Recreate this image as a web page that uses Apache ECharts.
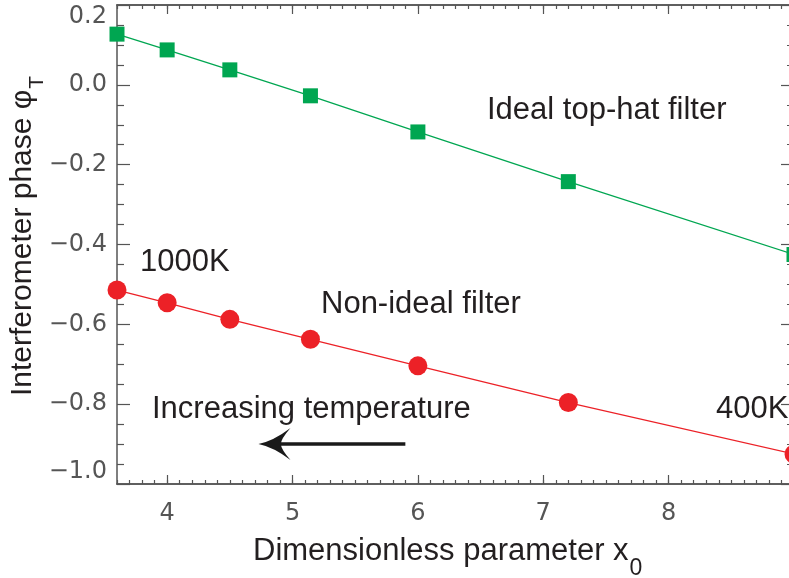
<!DOCTYPE html>
<html>
<head>
<meta charset="utf-8">
<title>Interferometer phase vs dimensionless parameter</title>
<script src="https://cdn.jsdelivr.net/npm/echarts@6/dist/echarts.min.js"></script>
<style>
  html, body { margin: 0; padding: 0; background: #ffffff; }
  #chart { width: 789px; height: 578px; }
</style>
</head>
<body>
<div id="chart"></div>
<script>
// x0 = 3600 / T, for T = 1000 K down to 400 K
const x0Values = [3.6, 4.0, 4.5, 5.143, 6.0, 7.2, 9.0];
// Ideal top-hat filter
const idealPhase = [0.127, 0.0875, 0.0375, -0.0275, -0.118, -0.2425, -0.425];
// Non-ideal filter
const nonIdealPhase = [-0.514, -0.546, -0.5875, -0.6375, -0.704, -0.796, -0.925];

// Axis ticks and labels
const xMajorTicks = [4, 5, 6, 7, 8];
const xMinorTicks = [];
for (let i = 36; i <= 90; i++) xMinorTicks.push(i / 10);
const yTickLabels = ['\u22121.0', '\u22120.8', '\u22120.6', '\u22120.4', '\u22120.2', '0.0', '0.2'];

// "Increasing temperature" arrow, from tail to head
const arrowX = [5.9, 4.856];
const arrowY = -0.9;

const AXIS_COLOR = '#555555';
const TICK_LABEL_COLOR = '#555555';
const TEXT_COLOR = '#231f20';
const TEXT_FONT = 'Liberation Sans';
const TICK_FONT = 'DejaVu Sans';
const GREEN = '#00a651';
const RED = '#ec2127';

const axisLineStyle = { color: AXIS_COLOR, width: 1.5 };
const tickLineStyle = { color: AXIS_COLOR, width: 1.2 };

function xAxisDef(position, ticks, tickLen, withLabels) {
  return {
    type: 'value',
    position: position,
    min: 3.6,
    max: 9.0,
    axisLine: { show: true, onZero: false, lineStyle: axisLineStyle },
    axisTick: { show: true, inside: true, length: tickLen, customValues: ticks, lineStyle: tickLineStyle },
    axisLabel: withLabels ? {
      show: true,
      customValues: ticks,
      margin: 18,
      color: TICK_LABEL_COLOR,
      fontFamily: TICK_FONT,
      fontSize: 24,
      formatter: function (v) { return String(v); }
    } : { show: false },
    splitLine: { show: false }
  };
}

function yAxisDef(position, withLabels) {
  return {
    type: 'value',
    position: position,
    min: -1.0,
    max: 0.2,
    interval: 0.2,
    axisLine: { show: true, onZero: false, lineStyle: axisLineStyle },
    axisTick: { show: true, inside: true, length: 13, lineStyle: tickLineStyle },
    minorTick: { show: true, splitNumber: 4, length: 7, lineStyle: tickLineStyle },
    axisLabel: withLabels ? {
      show: true,
      margin: 10,
      color: TICK_LABEL_COLOR,
      fontFamily: TICK_FONT,
      fontSize: 24,
      verticalAlignMinLabel: 'bottom',
      verticalAlignMaxLabel: 'top',
      formatter: function (v) { return yTickLabels[Math.round((v + 1.0) / 0.2)]; }
    } : { show: false },
    splitLine: { show: false },
    minorSplitLine: { show: false }
  };
}

function pairs(xs, ys) {
  return xs.map(function (x, i) { return [x, ys[i]]; });
}

const textStyle = function (size) {
  return { fontSize: size, fontFamily: TEXT_FONT, fill: TEXT_COLOR };
};

function annotation(text, x, y) {
  return {
    type: 'text',
    x: x,
    y: y,
    silent: true,
    style: Object.assign({ text: text, align: 'left', verticalAlign: 'middle' }, textStyle(31))
  };
}

const chart = echarts.init(document.getElementById('chart'), null, { renderer: 'canvas' });

chart.setOption({
  animation: false,
  backgroundColor: '#ffffff',
  grid: { left: 117, top: 5, width: 677, height: 479, containLabel: false, outerBoundsMode: 'none' },
  xAxis: [
    xAxisDef('bottom', xMajorTicks, 9, true),
    xAxisDef('bottom', xMinorTicks, 4, false),
    xAxisDef('top', xMajorTicks, 9, false),
    xAxisDef('top', xMinorTicks, 4, false)
  ],
  yAxis: [
    yAxisDef('left', true),
    yAxisDef('right', false)
  ],
  series: [
    {
      name: 'Ideal top-hat filter',
      type: 'line',
      xAxisIndex: 0,
      yAxisIndex: 0,
      clip: false,
      data: pairs(x0Values, idealPhase),
      symbol: 'rect',
      symbolSize: 15,
      showAllSymbol: true,
      lineStyle: { color: GREEN, width: 1.3 },
      itemStyle: { color: GREEN }
    },
    {
      name: 'Non-ideal filter',
      type: 'line',
      xAxisIndex: 0,
      yAxisIndex: 0,
      clip: false,
      data: pairs(x0Values, nonIdealPhase),
      symbol: 'circle',
      symbolSize: 19,
      showAllSymbol: true,
      lineStyle: { color: RED, width: 1.3 },
      itemStyle: { color: RED }
    },
    {
      // arrow annotation drawn on the same axes
      name: 'arrow',
      type: 'line',
      xAxisIndex: 0,
      yAxisIndex: 0,
      data: [],
      markLine: {
        silent: true,
        animation: false,
        symbol: ['none', 'path://M16,0 Q19,14 32,30 Q21,21 16,21 Q11,21 0,30 Q13,14 16,0 Z'],
        symbolSize: 32,
        label: { show: false },
        lineStyle: { color: '#1a1a1a', width: 3.5, type: 'solid', opacity: 1 },
        itemStyle: { color: '#1a1a1a' },
        emphasis: { disabled: true },
        data: [[{ coord: [arrowX[0], arrowY] }, { coord: [arrowX[1], arrowY] }]]
      }
    }
  ],
  graphic: [
    annotation('Ideal top-hat filter', 487, 110.5),
    annotation('1000K', 140, 262),
    annotation('Non-ideal filter', 321, 304),
    annotation('Increasing temperature', 152, 409),
    annotation('400K', 716, 409),
    {
      type: 'text',
      x: 253,
      y: 551,
      silent: true,
      style: {
        text: '{m|Dimensionless parameter x}{s|0}',
        align: 'left',
        verticalAlign: 'middle',
        rich: {
          m: textStyle(31),
          s: Object.assign({ padding: [36, 0, 0, 1] }, textStyle(23))
        }
      }
    },
    {
      type: 'text',
      x: 23,
      y: 396,
      rotation: Math.PI / 2,
      silent: true,
      style: {
        text: '{m|Interferometer phase \u03c6}{s|T}',
        align: 'left',
        verticalAlign: 'middle',
        rich: {
          m: textStyle(30),
          s: Object.assign({ padding: [28, 0, 0, 1] }, textStyle(21))
        }
      }
    }
  ]
});
</script>
</body>
</html>
